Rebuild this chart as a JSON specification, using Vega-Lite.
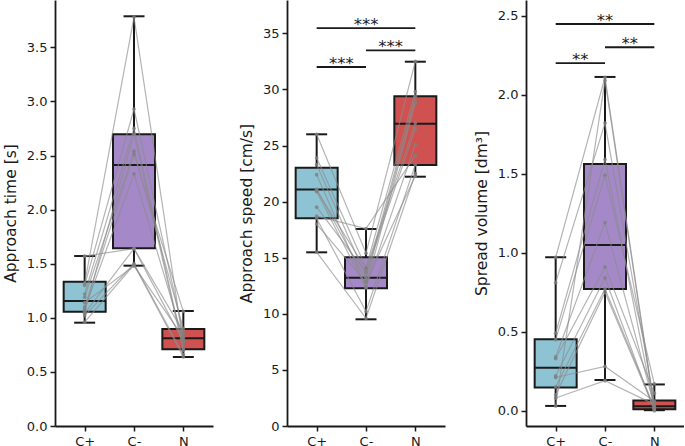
{
  "$schema": "https://vega.github.io/schema/vega-lite/v6.json",
  "background": "white",
  "padding": {"left": 3, "top": 0, "right": 0, "bottom": 0},
  "datasets": {
    "subjects": [
      {"panel": "time", "subject": 1, "cond": "C+", "value": 1.57},
      {"panel": "time", "subject": 2, "cond": "C+", "value": 1.32},
      {"panel": "time", "subject": 3, "cond": "C+", "value": 1.30},
      {"panel": "time", "subject": 4, "cond": "C+", "value": 1.22},
      {"panel": "time", "subject": 5, "cond": "C+", "value": 1.19},
      {"panel": "time", "subject": 6, "cond": "C+", "value": 1.10},
      {"panel": "time", "subject": 7, "cond": "C+", "value": 1.08},
      {"panel": "time", "subject": 8, "cond": "C+", "value": 1.06},
      {"panel": "time", "subject": 9, "cond": "C+", "value": 1.04},
      {"panel": "time", "subject": 10, "cond": "C+", "value": 1.02},
      {"panel": "time", "subject": 11, "cond": "C+", "value": 0.96},
      {"panel": "time", "subject": 12, "cond": "C+", "value": 1.14},
      {"panel": "time", "subject": 1, "cond": "C-", "value": 1.64},
      {"panel": "time", "subject": 2, "cond": "C-", "value": 3.78},
      {"panel": "time", "subject": 3, "cond": "C-", "value": 2.93},
      {"panel": "time", "subject": 4, "cond": "C-", "value": 2.75},
      {"panel": "time", "subject": 5, "cond": "C-", "value": 2.54},
      {"panel": "time", "subject": 6, "cond": "C-", "value": 2.51},
      {"panel": "time", "subject": 7, "cond": "C-", "value": 2.33},
      {"panel": "time", "subject": 8, "cond": "C-", "value": 2.70},
      {"panel": "time", "subject": 9, "cond": "C-", "value": 1.64},
      {"panel": "time", "subject": 10, "cond": "C-", "value": 1.50},
      {"panel": "time", "subject": 11, "cond": "C-", "value": 1.49},
      {"panel": "time", "subject": 12, "cond": "C-", "value": 1.48},
      {"panel": "time", "subject": 1, "cond": "N", "value": 0.87},
      {"panel": "time", "subject": 2, "cond": "N", "value": 0.76},
      {"panel": "time", "subject": 3, "cond": "N", "value": 0.85},
      {"panel": "time", "subject": 4, "cond": "N", "value": 0.72},
      {"panel": "time", "subject": 5, "cond": "N", "value": 0.90},
      {"panel": "time", "subject": 6, "cond": "N", "value": 1.06},
      {"panel": "time", "subject": 7, "cond": "N", "value": 0.80},
      {"panel": "time", "subject": 8, "cond": "N", "value": 0.70},
      {"panel": "time", "subject": 9, "cond": "N", "value": 0.78},
      {"panel": "time", "subject": 10, "cond": "N", "value": 0.66},
      {"panel": "time", "subject": 11, "cond": "N", "value": 0.64},
      {"panel": "time", "subject": 12, "cond": "N", "value": 0.82},
      {"panel": "speed", "subject": 1, "cond": "C+", "value": 26.0},
      {"panel": "speed", "subject": 2, "cond": "C+", "value": 23.9},
      {"panel": "speed", "subject": 3, "cond": "C+", "value": 23.3},
      {"panel": "speed", "subject": 4, "cond": "C+", "value": 22.4},
      {"panel": "speed", "subject": 5, "cond": "C+", "value": 21.1},
      {"panel": "speed", "subject": 6, "cond": "C+", "value": 21.0},
      {"panel": "speed", "subject": 7, "cond": "C+", "value": 20.9},
      {"panel": "speed", "subject": 8, "cond": "C+", "value": 18.7},
      {"panel": "speed", "subject": 9, "cond": "C+", "value": 18.5},
      {"panel": "speed", "subject": 10, "cond": "C+", "value": 18.0},
      {"panel": "speed", "subject": 11, "cond": "C+", "value": 15.5},
      {"panel": "speed", "subject": 12, "cond": "C+", "value": 19.5},
      {"panel": "speed", "subject": 1, "cond": "C-", "value": 15.4},
      {"panel": "speed", "subject": 2, "cond": "C-", "value": 14.1},
      {"panel": "speed", "subject": 3, "cond": "C-", "value": 13.3},
      {"panel": "speed", "subject": 4, "cond": "C-", "value": 12.4},
      {"panel": "speed", "subject": 5, "cond": "C-", "value": 13.0},
      {"panel": "speed", "subject": 6, "cond": "C-", "value": 14.0},
      {"panel": "speed", "subject": 7, "cond": "C-", "value": 12.3},
      {"panel": "speed", "subject": 8, "cond": "C-", "value": 17.6},
      {"panel": "speed", "subject": 9, "cond": "C-", "value": 10.2},
      {"panel": "speed", "subject": 10, "cond": "C-", "value": 12.8},
      {"panel": "speed", "subject": 11, "cond": "C-", "value": 9.6},
      {"panel": "speed", "subject": 12, "cond": "C-", "value": 13.7},
      {"panel": "speed", "subject": 1, "cond": "N", "value": 32.5},
      {"panel": "speed", "subject": 2, "cond": "N", "value": 29.8},
      {"panel": "speed", "subject": 3, "cond": "N", "value": 29.4},
      {"panel": "speed", "subject": 4, "cond": "N", "value": 28.8},
      {"panel": "speed", "subject": 5, "cond": "N", "value": 29.0},
      {"panel": "speed", "subject": 6, "cond": "N", "value": 27.0},
      {"panel": "speed", "subject": 7, "cond": "N", "value": 25.1},
      {"panel": "speed", "subject": 8, "cond": "N", "value": 24.1},
      {"panel": "speed", "subject": 9, "cond": "N", "value": 23.3},
      {"panel": "speed", "subject": 10, "cond": "N", "value": 22.3},
      {"panel": "speed", "subject": 11, "cond": "N", "value": 22.5},
      {"panel": "speed", "subject": 12, "cond": "N", "value": 26.5},
      {"panel": "volume", "subject": 1, "cond": "C+", "value": 0.97},
      {"panel": "volume", "subject": 2, "cond": "C+", "value": 0.81},
      {"panel": "volume", "subject": 3, "cond": "C+", "value": 0.49},
      {"panel": "volume", "subject": 4, "cond": "C+", "value": 0.45},
      {"panel": "volume", "subject": 5, "cond": "C+", "value": 0.34},
      {"panel": "volume", "subject": 6, "cond": "C+", "value": 0.33},
      {"panel": "volume", "subject": 7, "cond": "C+", "value": 0.22},
      {"panel": "volume", "subject": 8, "cond": "C+", "value": 0.21},
      {"panel": "volume", "subject": 9, "cond": "C+", "value": 0.15},
      {"panel": "volume", "subject": 10, "cond": "C+", "value": 0.10},
      {"panel": "volume", "subject": 11, "cond": "C+", "value": 0.08},
      {"panel": "volume", "subject": 12, "cond": "C+", "value": 0.03},
      {"panel": "volume", "subject": 1, "cond": "C-", "value": 2.11},
      {"panel": "volume", "subject": 2, "cond": "C-", "value": 1.82},
      {"panel": "volume", "subject": 3, "cond": "C-", "value": 1.59},
      {"panel": "volume", "subject": 4, "cond": "C-", "value": 1.49},
      {"panel": "volume", "subject": 5, "cond": "C-", "value": 1.19},
      {"panel": "volume", "subject": 6, "cond": "C-", "value": 0.91},
      {"panel": "volume", "subject": 7, "cond": "C-", "value": 0.84},
      {"panel": "volume", "subject": 8, "cond": "C-", "value": 0.28},
      {"panel": "volume", "subject": 9, "cond": "C-", "value": 0.77},
      {"panel": "volume", "subject": 10, "cond": "C-", "value": 0.75},
      {"panel": "volume", "subject": 11, "cond": "C-", "value": 0.19},
      {"panel": "volume", "subject": 12, "cond": "C-", "value": 2.09},
      {"panel": "volume", "subject": 1, "cond": "N", "value": 0.02},
      {"panel": "volume", "subject": 2, "cond": "N", "value": 0.05},
      {"panel": "volume", "subject": 3, "cond": "N", "value": 0.01},
      {"panel": "volume", "subject": 4, "cond": "N", "value": 0.17},
      {"panel": "volume", "subject": 5, "cond": "N", "value": 0.03},
      {"panel": "volume", "subject": 6, "cond": "N", "value": 0.11},
      {"panel": "volume", "subject": 7, "cond": "N", "value": 0.00},
      {"panel": "volume", "subject": 8, "cond": "N", "value": 0.06},
      {"panel": "volume", "subject": 9, "cond": "N", "value": 0.02},
      {"panel": "volume", "subject": 10, "cond": "N", "value": 0.01},
      {"panel": "volume", "subject": 11, "cond": "N", "value": 0.04},
      {"panel": "volume", "subject": 12, "cond": "N", "value": 0.01}
    ],
    "boxes": [
      {"panel": "time", "cond": "C+", "lo": 0.955, "q1": 1.057, "med": 1.155, "q3": 1.334, "hi": 1.571},
      {"panel": "time", "cond": "C-", "lo": 1.482, "q1": 1.642, "med": 2.412, "q3": 2.696, "hi": 3.787},
      {"panel": "time", "cond": "N", "lo": 0.638, "q1": 0.709, "med": 0.811, "q3": 0.897, "hi": 1.063},
      {"panel": "speed", "cond": "C+", "lo": 15.48, "q1": 18.51, "med": 21.09, "q3": 23.02, "hi": 26.0},
      {"panel": "speed", "cond": "C-", "lo": 9.51, "q1": 12.27, "med": 13.22, "q3": 15.03, "hi": 17.56},
      {"panel": "speed", "cond": "N", "lo": 22.22, "q1": 23.26, "med": 26.94, "q3": 29.38, "hi": 32.47},
      {"panel": "volume", "cond": "C+", "lo": 0.03, "q1": 0.146, "med": 0.272, "q3": 0.452, "hi": 0.971},
      {"panel": "volume", "cond": "C-", "lo": 0.194, "q1": 0.77, "med": 1.049, "q3": 1.561, "hi": 2.112},
      {"panel": "volume", "cond": "N", "lo": 0.003, "q1": 0.009, "med": 0.028, "q3": 0.065, "hi": 0.166}
    ],
    "sig": [
      {"panel": "speed", "from": "C+", "to": "C-", "y": 32.0, "label": "***"},
      {"panel": "speed", "from": "C-", "to": "N", "y": 33.48, "label": "***"},
      {"panel": "speed", "from": "C+", "to": "N", "y": 35.47, "label": "***"},
      {"panel": "volume", "from": "C+", "to": "C-", "y": 2.2, "label": "**"},
      {"panel": "volume", "from": "C-", "to": "N", "y": 2.3, "label": "**"},
      {"panel": "volume", "from": "C+", "to": "N", "y": 2.447, "label": "**"}
    ]
  },
  "hconcat": [
    {
      "width": 158,
      "height": 426,
      "layer": [
        {
          "data": {"name": "boxes"},
          "transform": [{"filter": "datum.panel === 'time'"}, {"calculate": "indexof(['C+','C-','N'], datum.cond)", "as": "i"}],
          "mark": {"type": "rule", "color": "#1a1a1a", "strokeWidth": 2},
          "encoding": {
            "x": {"field": "i", "type": "quantitative", "scale": {"domain": [-0.5, 2.5], "nice": false, "zero": false}, "axis": {"values": [0, 1, 2], "labelExpr": "['C+','C-','N'][datum.value]", "title": null, "labelPadding": 4}},
            "y": {"field": "lo", "type": "quantitative", "scale": {"domain": [0, 3.9375], "nice": false, "zero": false}, "axis": {"title": "Approach time [s]", "values": [0, 0.5, 1, 1.5, 2, 2.5, 3, 3.5], "format": ".1f"}},
            "y2": {"field": "hi"}
          }
        },
        {
          "data": {"name": "boxes"},
          "transform": [{"filter": "datum.panel === 'time'"}, {"calculate": "indexof(['C+','C-','N'], datum.cond)", "as": "i"}],
          "mark": {"type": "bar", "size": 42, "stroke": "#1a1a1a", "strokeWidth": 2, "opacity": 1},
          "encoding": {
            "x": {"field": "i", "type": "quantitative", "scale": {"domain": [-0.5, 2.5], "nice": false, "zero": false}, "axis": {"values": [0, 1, 2], "labelExpr": "['C+','C-','N'][datum.value]", "title": null, "labelPadding": 4}},
            "y": {"field": "q1", "type": "quantitative", "scale": {"domain": [0, 3.9375], "nice": false, "zero": false}, "axis": {"title": "Approach time [s]", "values": [0, 0.5, 1, 1.5, 2, 2.5, 3, 3.5], "format": ".1f"}},
            "y2": {"field": "q3"},
            "fill": {"field": "cond", "type": "nominal", "scale": {"domain": ["C+", "C-", "N"], "range": ["#8ec3d4", "#a488c8", "#cf5250"]}, "legend": null}
          }
        },
        {
          "data": {"name": "boxes"},
          "transform": [{"filter": "datum.panel === 'time'"}, {"calculate": "indexof(['C+','C-','N'], datum.cond)", "as": "i"}],
          "mark": {"type": "tick", "orient": "horizontal", "size": 42, "thickness": 2, "color": "#1a1a1a", "opacity": 1},
          "encoding": {
            "x": {"field": "i", "type": "quantitative", "scale": {"domain": [-0.5, 2.5], "nice": false, "zero": false}, "axis": {"values": [0, 1, 2], "labelExpr": "['C+','C-','N'][datum.value]", "title": null, "labelPadding": 4}},
            "y": {"field": "med", "type": "quantitative", "scale": {"domain": [0, 3.9375], "nice": false, "zero": false}, "axis": {"title": "Approach time [s]", "values": [0, 0.5, 1, 1.5, 2, 2.5, 3, 3.5], "format": ".1f"}}
          }
        },
        {
          "data": {"name": "boxes"},
          "transform": [{"filter": "datum.panel === 'time'"}, {"calculate": "indexof(['C+','C-','N'], datum.cond)", "as": "i"}],
          "mark": {"type": "tick", "orient": "horizontal", "size": 21, "thickness": 2, "color": "#1a1a1a", "opacity": 1},
          "encoding": {
            "x": {"field": "i", "type": "quantitative", "scale": {"domain": [-0.5, 2.5], "nice": false, "zero": false}, "axis": {"values": [0, 1, 2], "labelExpr": "['C+','C-','N'][datum.value]", "title": null, "labelPadding": 4}},
            "y": {"field": "lo", "type": "quantitative", "scale": {"domain": [0, 3.9375], "nice": false, "zero": false}, "axis": {"title": "Approach time [s]", "values": [0, 0.5, 1, 1.5, 2, 2.5, 3, 3.5], "format": ".1f"}}
          }
        },
        {
          "data": {"name": "boxes"},
          "transform": [{"filter": "datum.panel === 'time'"}, {"calculate": "indexof(['C+','C-','N'], datum.cond)", "as": "i"}],
          "mark": {"type": "tick", "orient": "horizontal", "size": 21, "thickness": 2, "color": "#1a1a1a", "opacity": 1},
          "encoding": {
            "x": {"field": "i", "type": "quantitative", "scale": {"domain": [-0.5, 2.5], "nice": false, "zero": false}, "axis": {"values": [0, 1, 2], "labelExpr": "['C+','C-','N'][datum.value]", "title": null, "labelPadding": 4}},
            "y": {"field": "hi", "type": "quantitative", "scale": {"domain": [0, 3.9375], "nice": false, "zero": false}, "axis": {"title": "Approach time [s]", "values": [0, 0.5, 1, 1.5, 2, 2.5, 3, 3.5], "format": ".1f"}}
          }
        },
        {
          "data": {"name": "subjects"},
          "transform": [{"filter": "datum.panel === 'time'"}, {"calculate": "indexof(['C+','C-','N'], datum.cond)", "as": "i"}],
          "mark": {"type": "line", "color": "#8c8c8c", "strokeWidth": 1.2, "opacity": 0.65},
          "encoding": {
            "x": {"field": "i", "type": "quantitative", "scale": {"domain": [-0.5, 2.5], "nice": false, "zero": false}, "axis": {"values": [0, 1, 2], "labelExpr": "['C+','C-','N'][datum.value]", "title": null, "labelPadding": 4}},
            "y": {"field": "value", "type": "quantitative", "scale": {"domain": [0, 3.9375], "nice": false, "zero": false}, "axis": {"title": "Approach time [s]", "values": [0, 0.5, 1, 1.5, 2, 2.5, 3, 3.5], "format": ".1f"}},
            "detail": {"field": "subject", "type": "nominal"}
          }
        },
        {
          "data": {"name": "subjects"},
          "transform": [{"filter": "datum.panel === 'time'"}, {"calculate": "indexof(['C+','C-','N'], datum.cond)", "as": "i"}],
          "mark": {"type": "circle", "color": "#7f7f7f", "size": 14, "opacity": 0.8},
          "encoding": {
            "x": {"field": "i", "type": "quantitative", "scale": {"domain": [-0.5, 2.5], "nice": false, "zero": false}, "axis": {"values": [0, 1, 2], "labelExpr": "['C+','C-','N'][datum.value]", "title": null, "labelPadding": 4}},
            "y": {"field": "value", "type": "quantitative", "scale": {"domain": [0, 3.9375], "nice": false, "zero": false}, "axis": {"title": "Approach time [s]", "values": [0, 0.5, 1, 1.5, 2, 2.5, 3, 3.5], "format": ".1f"}}
          }
        }
      ]
    },
    {
      "hconcat": [
        {
          "width": 158,
          "height": 426,
          "layer": [
            {
              "data": {"name": "boxes"},
              "transform": [{"filter": "datum.panel === 'speed'"}, {"calculate": "indexof(['C+','C-','N'], datum.cond)", "as": "i"}],
              "mark": {"type": "rule", "color": "#1a1a1a", "strokeWidth": 2},
              "encoding": {
                "x": {"field": "i", "type": "quantitative", "scale": {"domain": [-0.5, 2.5], "nice": false, "zero": false}, "axis": {"values": [0, 1, 2], "labelExpr": "['C+','C-','N'][datum.value]", "title": null, "labelPadding": 4}},
                "y": {"field": "lo", "type": "quantitative", "scale": {"domain": [0, 37.97], "nice": false, "zero": false}, "axis": {"title": "Approach speed [cm/s]", "values": [0, 5, 10, 15, 20, 25, 30, 35], "format": "d"}},
                "y2": {"field": "hi"}
              }
            },
            {
              "data": {"name": "boxes"},
              "transform": [{"filter": "datum.panel === 'speed'"}, {"calculate": "indexof(['C+','C-','N'], datum.cond)", "as": "i"}],
              "mark": {"type": "bar", "size": 42, "stroke": "#1a1a1a", "strokeWidth": 2, "opacity": 1},
              "encoding": {
                "x": {"field": "i", "type": "quantitative", "scale": {"domain": [-0.5, 2.5], "nice": false, "zero": false}, "axis": {"values": [0, 1, 2], "labelExpr": "['C+','C-','N'][datum.value]", "title": null, "labelPadding": 4}},
                "y": {"field": "q1", "type": "quantitative", "scale": {"domain": [0, 37.97], "nice": false, "zero": false}, "axis": {"title": "Approach speed [cm/s]", "values": [0, 5, 10, 15, 20, 25, 30, 35], "format": "d"}},
                "y2": {"field": "q3"},
                "fill": {"field": "cond", "type": "nominal", "scale": {"domain": ["C+", "C-", "N"], "range": ["#8ec3d4", "#a488c8", "#cf5250"]}, "legend": null}
              }
            },
            {
              "data": {"name": "boxes"},
              "transform": [{"filter": "datum.panel === 'speed'"}, {"calculate": "indexof(['C+','C-','N'], datum.cond)", "as": "i"}],
              "mark": {"type": "tick", "orient": "horizontal", "size": 42, "thickness": 2, "color": "#1a1a1a", "opacity": 1},
              "encoding": {
                "x": {"field": "i", "type": "quantitative", "scale": {"domain": [-0.5, 2.5], "nice": false, "zero": false}, "axis": {"values": [0, 1, 2], "labelExpr": "['C+','C-','N'][datum.value]", "title": null, "labelPadding": 4}},
                "y": {"field": "med", "type": "quantitative", "scale": {"domain": [0, 37.97], "nice": false, "zero": false}, "axis": {"title": "Approach speed [cm/s]", "values": [0, 5, 10, 15, 20, 25, 30, 35], "format": "d"}}
              }
            },
            {
              "data": {"name": "boxes"},
              "transform": [{"filter": "datum.panel === 'speed'"}, {"calculate": "indexof(['C+','C-','N'], datum.cond)", "as": "i"}],
              "mark": {"type": "tick", "orient": "horizontal", "size": 21, "thickness": 2, "color": "#1a1a1a", "opacity": 1},
              "encoding": {
                "x": {"field": "i", "type": "quantitative", "scale": {"domain": [-0.5, 2.5], "nice": false, "zero": false}, "axis": {"values": [0, 1, 2], "labelExpr": "['C+','C-','N'][datum.value]", "title": null, "labelPadding": 4}},
                "y": {"field": "lo", "type": "quantitative", "scale": {"domain": [0, 37.97], "nice": false, "zero": false}, "axis": {"title": "Approach speed [cm/s]", "values": [0, 5, 10, 15, 20, 25, 30, 35], "format": "d"}}
              }
            },
            {
              "data": {"name": "boxes"},
              "transform": [{"filter": "datum.panel === 'speed'"}, {"calculate": "indexof(['C+','C-','N'], datum.cond)", "as": "i"}],
              "mark": {"type": "tick", "orient": "horizontal", "size": 21, "thickness": 2, "color": "#1a1a1a", "opacity": 1},
              "encoding": {
                "x": {"field": "i", "type": "quantitative", "scale": {"domain": [-0.5, 2.5], "nice": false, "zero": false}, "axis": {"values": [0, 1, 2], "labelExpr": "['C+','C-','N'][datum.value]", "title": null, "labelPadding": 4}},
                "y": {"field": "hi", "type": "quantitative", "scale": {"domain": [0, 37.97], "nice": false, "zero": false}, "axis": {"title": "Approach speed [cm/s]", "values": [0, 5, 10, 15, 20, 25, 30, 35], "format": "d"}}
              }
            },
            {
              "data": {"name": "subjects"},
              "transform": [{"filter": "datum.panel === 'speed'"}, {"calculate": "indexof(['C+','C-','N'], datum.cond)", "as": "i"}],
              "mark": {"type": "line", "color": "#8c8c8c", "strokeWidth": 1.2, "opacity": 0.65},
              "encoding": {
                "x": {"field": "i", "type": "quantitative", "scale": {"domain": [-0.5, 2.5], "nice": false, "zero": false}, "axis": {"values": [0, 1, 2], "labelExpr": "['C+','C-','N'][datum.value]", "title": null, "labelPadding": 4}},
                "y": {"field": "value", "type": "quantitative", "scale": {"domain": [0, 37.97], "nice": false, "zero": false}, "axis": {"title": "Approach speed [cm/s]", "values": [0, 5, 10, 15, 20, 25, 30, 35], "format": "d"}},
                "detail": {"field": "subject", "type": "nominal"}
              }
            },
            {
              "data": {"name": "subjects"},
              "transform": [{"filter": "datum.panel === 'speed'"}, {"calculate": "indexof(['C+','C-','N'], datum.cond)", "as": "i"}],
              "mark": {"type": "circle", "color": "#7f7f7f", "size": 14, "opacity": 0.8},
              "encoding": {
                "x": {"field": "i", "type": "quantitative", "scale": {"domain": [-0.5, 2.5], "nice": false, "zero": false}, "axis": {"values": [0, 1, 2], "labelExpr": "['C+','C-','N'][datum.value]", "title": null, "labelPadding": 4}},
                "y": {"field": "value", "type": "quantitative", "scale": {"domain": [0, 37.97], "nice": false, "zero": false}, "axis": {"title": "Approach speed [cm/s]", "values": [0, 5, 10, 15, 20, 25, 30, 35], "format": "d"}}
              }
            },
            {
              "data": {"name": "sig"},
              "transform": [{"filter": "datum.panel === 'speed'"}, {"calculate": "indexof(['C+','C-','N'], datum.from)", "as": "i"}, {"calculate": "indexof(['C+','C-','N'], datum.to)", "as": "i2"}],
              "mark": {"type": "rule", "color": "#1a1a1a", "strokeWidth": 1.8},
              "encoding": {
                "x": {"field": "i", "type": "quantitative", "scale": {"domain": [-0.5, 2.5], "nice": false, "zero": false}, "axis": {"values": [0, 1, 2], "labelExpr": "['C+','C-','N'][datum.value]", "title": null, "labelPadding": 4}},
                "x2": {"field": "i2"},
                "y": {"field": "y", "type": "quantitative", "scale": {"domain": [0, 37.97], "nice": false, "zero": false}, "axis": {"title": "Approach speed [cm/s]", "values": [0, 5, 10, 15, 20, 25, 30, 35], "format": "d"}}
              }
            },
            {
              "data": {"name": "sig"},
              "transform": [{"filter": "datum.panel === 'speed'"}, {"calculate": "indexof(['C+','C-','N'], datum.from)", "as": "i"}, {"calculate": "indexof(['C+','C-','N'], datum.to)", "as": "i2"}, {"calculate": "(datum.i + datum.i2) / 2", "as": "im"}],
              "mark": {"type": "text", "font": "DejaVu Sans", "fontSize": 16.5, "color": "#1a1a1a", "baseline": "alphabetic", "align": "center", "dy": 2},
              "encoding": {
                "x": {"field": "im", "type": "quantitative", "scale": {"domain": [-0.5, 2.5], "nice": false, "zero": false}, "axis": {"values": [0, 1, 2], "labelExpr": "['C+','C-','N'][datum.value]", "title": null, "labelPadding": 4}},
                "y": {"field": "y", "type": "quantitative", "scale": {"domain": [0, 37.97], "nice": false, "zero": false}, "axis": {"title": "Approach speed [cm/s]", "values": [0, 5, 10, 15, 20, 25, 30, 35], "format": "d"}},
                "text": {"field": "label"}
              }
            }
          ]
        },
        {
          "width": 158,
          "height": 426,
          "layer": [
            {
              "data": {"name": "boxes"},
              "transform": [{"filter": "datum.panel === 'volume'"}, {"calculate": "indexof(['C+','C-','N'], datum.cond)", "as": "i"}],
              "mark": {"type": "rule", "color": "#1a1a1a", "strokeWidth": 2},
              "encoding": {
                "x": {"field": "i", "type": "quantitative", "scale": {"domain": [-0.5, 2.5], "nice": false, "zero": false}, "axis": {"values": [0, 1, 2], "labelExpr": "['C+','C-','N'][datum.value]", "title": null, "labelPadding": 4}},
                "y": {"field": "lo", "type": "quantitative", "scale": {"domain": [-0.097, 2.599], "nice": false, "zero": false}, "axis": {"title": "Spread volume [dm³]", "values": [0, 0.5, 1, 1.5, 2, 2.5], "format": ".1f"}},
                "y2": {"field": "hi"}
              }
            },
            {
              "data": {"name": "boxes"},
              "transform": [{"filter": "datum.panel === 'volume'"}, {"calculate": "indexof(['C+','C-','N'], datum.cond)", "as": "i"}],
              "mark": {"type": "bar", "size": 42, "stroke": "#1a1a1a", "strokeWidth": 2, "opacity": 1},
              "encoding": {
                "x": {"field": "i", "type": "quantitative", "scale": {"domain": [-0.5, 2.5], "nice": false, "zero": false}, "axis": {"values": [0, 1, 2], "labelExpr": "['C+','C-','N'][datum.value]", "title": null, "labelPadding": 4}},
                "y": {"field": "q1", "type": "quantitative", "scale": {"domain": [-0.097, 2.599], "nice": false, "zero": false}, "axis": {"title": "Spread volume [dm³]", "values": [0, 0.5, 1, 1.5, 2, 2.5], "format": ".1f"}},
                "y2": {"field": "q3"},
                "fill": {"field": "cond", "type": "nominal", "scale": {"domain": ["C+", "C-", "N"], "range": ["#8ec3d4", "#a488c8", "#cf5250"]}, "legend": null}
              }
            },
            {
              "data": {"name": "boxes"},
              "transform": [{"filter": "datum.panel === 'volume'"}, {"calculate": "indexof(['C+','C-','N'], datum.cond)", "as": "i"}],
              "mark": {"type": "tick", "orient": "horizontal", "size": 42, "thickness": 2, "color": "#1a1a1a", "opacity": 1},
              "encoding": {
                "x": {"field": "i", "type": "quantitative", "scale": {"domain": [-0.5, 2.5], "nice": false, "zero": false}, "axis": {"values": [0, 1, 2], "labelExpr": "['C+','C-','N'][datum.value]", "title": null, "labelPadding": 4}},
                "y": {"field": "med", "type": "quantitative", "scale": {"domain": [-0.097, 2.599], "nice": false, "zero": false}, "axis": {"title": "Spread volume [dm³]", "values": [0, 0.5, 1, 1.5, 2, 2.5], "format": ".1f"}}
              }
            },
            {
              "data": {"name": "boxes"},
              "transform": [{"filter": "datum.panel === 'volume'"}, {"calculate": "indexof(['C+','C-','N'], datum.cond)", "as": "i"}],
              "mark": {"type": "tick", "orient": "horizontal", "size": 21, "thickness": 2, "color": "#1a1a1a", "opacity": 1},
              "encoding": {
                "x": {"field": "i", "type": "quantitative", "scale": {"domain": [-0.5, 2.5], "nice": false, "zero": false}, "axis": {"values": [0, 1, 2], "labelExpr": "['C+','C-','N'][datum.value]", "title": null, "labelPadding": 4}},
                "y": {"field": "lo", "type": "quantitative", "scale": {"domain": [-0.097, 2.599], "nice": false, "zero": false}, "axis": {"title": "Spread volume [dm³]", "values": [0, 0.5, 1, 1.5, 2, 2.5], "format": ".1f"}}
              }
            },
            {
              "data": {"name": "boxes"},
              "transform": [{"filter": "datum.panel === 'volume'"}, {"calculate": "indexof(['C+','C-','N'], datum.cond)", "as": "i"}],
              "mark": {"type": "tick", "orient": "horizontal", "size": 21, "thickness": 2, "color": "#1a1a1a", "opacity": 1},
              "encoding": {
                "x": {"field": "i", "type": "quantitative", "scale": {"domain": [-0.5, 2.5], "nice": false, "zero": false}, "axis": {"values": [0, 1, 2], "labelExpr": "['C+','C-','N'][datum.value]", "title": null, "labelPadding": 4}},
                "y": {"field": "hi", "type": "quantitative", "scale": {"domain": [-0.097, 2.599], "nice": false, "zero": false}, "axis": {"title": "Spread volume [dm³]", "values": [0, 0.5, 1, 1.5, 2, 2.5], "format": ".1f"}}
              }
            },
            {
              "data": {"name": "subjects"},
              "transform": [{"filter": "datum.panel === 'volume'"}, {"calculate": "indexof(['C+','C-','N'], datum.cond)", "as": "i"}],
              "mark": {"type": "line", "color": "#8c8c8c", "strokeWidth": 1.2, "opacity": 0.65},
              "encoding": {
                "x": {"field": "i", "type": "quantitative", "scale": {"domain": [-0.5, 2.5], "nice": false, "zero": false}, "axis": {"values": [0, 1, 2], "labelExpr": "['C+','C-','N'][datum.value]", "title": null, "labelPadding": 4}},
                "y": {"field": "value", "type": "quantitative", "scale": {"domain": [-0.097, 2.599], "nice": false, "zero": false}, "axis": {"title": "Spread volume [dm³]", "values": [0, 0.5, 1, 1.5, 2, 2.5], "format": ".1f"}},
                "detail": {"field": "subject", "type": "nominal"}
              }
            },
            {
              "data": {"name": "subjects"},
              "transform": [{"filter": "datum.panel === 'volume'"}, {"calculate": "indexof(['C+','C-','N'], datum.cond)", "as": "i"}],
              "mark": {"type": "circle", "color": "#7f7f7f", "size": 14, "opacity": 0.8},
              "encoding": {
                "x": {"field": "i", "type": "quantitative", "scale": {"domain": [-0.5, 2.5], "nice": false, "zero": false}, "axis": {"values": [0, 1, 2], "labelExpr": "['C+','C-','N'][datum.value]", "title": null, "labelPadding": 4}},
                "y": {"field": "value", "type": "quantitative", "scale": {"domain": [-0.097, 2.599], "nice": false, "zero": false}, "axis": {"title": "Spread volume [dm³]", "values": [0, 0.5, 1, 1.5, 2, 2.5], "format": ".1f"}}
              }
            },
            {
              "data": {"name": "sig"},
              "transform": [{"filter": "datum.panel === 'volume'"}, {"calculate": "indexof(['C+','C-','N'], datum.from)", "as": "i"}, {"calculate": "indexof(['C+','C-','N'], datum.to)", "as": "i2"}],
              "mark": {"type": "rule", "color": "#1a1a1a", "strokeWidth": 1.8},
              "encoding": {
                "x": {"field": "i", "type": "quantitative", "scale": {"domain": [-0.5, 2.5], "nice": false, "zero": false}, "axis": {"values": [0, 1, 2], "labelExpr": "['C+','C-','N'][datum.value]", "title": null, "labelPadding": 4}},
                "x2": {"field": "i2"},
                "y": {"field": "y", "type": "quantitative", "scale": {"domain": [-0.097, 2.599], "nice": false, "zero": false}, "axis": {"title": "Spread volume [dm³]", "values": [0, 0.5, 1, 1.5, 2, 2.5], "format": ".1f"}}
              }
            },
            {
              "data": {"name": "sig"},
              "transform": [{"filter": "datum.panel === 'volume'"}, {"calculate": "indexof(['C+','C-','N'], datum.from)", "as": "i"}, {"calculate": "indexof(['C+','C-','N'], datum.to)", "as": "i2"}, {"calculate": "(datum.i + datum.i2) / 2", "as": "im"}],
              "mark": {"type": "text", "font": "DejaVu Sans", "fontSize": 16.5, "color": "#1a1a1a", "baseline": "alphabetic", "align": "center", "dy": 2},
              "encoding": {
                "x": {"field": "im", "type": "quantitative", "scale": {"domain": [-0.5, 2.5], "nice": false, "zero": false}, "axis": {"values": [0, 1, 2], "labelExpr": "['C+','C-','N'][datum.value]", "title": null, "labelPadding": 4}},
                "y": {"field": "y", "type": "quantitative", "scale": {"domain": [-0.097, 2.599], "nice": false, "zero": false}, "axis": {"title": "Spread volume [dm³]", "values": [0, 0.5, 1, 1.5, 2, 2.5], "format": ".1f"}},
                "text": {"field": "label"}
              }
            }
          ]
        }
      ],
      "spacing": 81,
      "bounds": "flush"
    }
  ],
  "spacing": 74,
  "bounds": "flush",
  "config": {
    "view": {"stroke": null},
    "font": "DejaVu Sans",
    "axis": {
      "grid": false,
      "domainColor": "#1a1a1a",
      "domainWidth": 1.8,
      "tickColor": "#1a1a1a",
      "tickWidth": 1.5,
      "tickSize": 5,
      "labelFont": "DejaVu Sans",
      "labelFontSize": 13,
      "labelColor": "#1a1a1a",
      "labelPadding": 3,
      "titleFont": "DejaVu Sans",
      "titleFontSize": 15.5,
      "titleFontWeight": "normal",
      "titleColor": "#1a1a1a",
      "titlePadding": 8
    }
  }
}
